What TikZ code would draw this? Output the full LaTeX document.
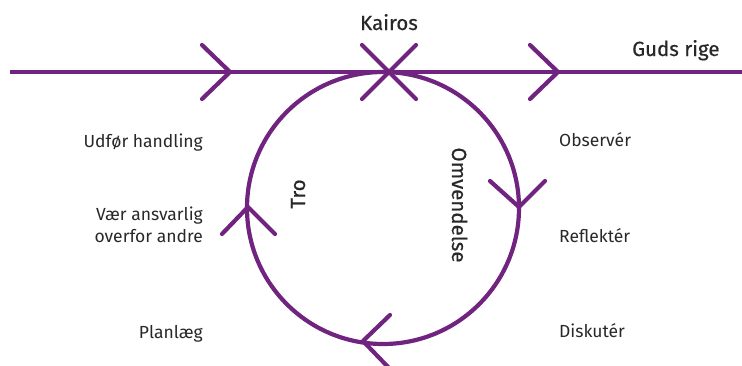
\documentclass[tikz,border=0pt]{standalone}
\usepackage{fontspec}
\setmainfont{Fira Sans}
\newfontfamily\titlefont[FakeBold=0.6]{Fira Sans}
\definecolor{cyclepurple}{RGB}{112, 36, 128}
\definecolor{textgray}{RGB}{40, 40, 40}
\usetikzlibrary{positioning}

\tikzset{
  pline/.style={draw=cyclepurple, line width=4.2pt, line cap=round, line join=round},
  steplabel/.style={text=textgray, inner sep=0pt, font=\fontsize{17.5}{22}\selectfont},
  mainlabel/.style={text=textgray, inner sep=0pt, font=\titlefont\fontsize{20.5}{24}\selectfont}
}

\begin{document}
\begin{tikzpicture}[x=1pt, y=-1pt]
  \useasboundingbox (0,0) rectangle (742,365);

  % Time line and the circle
  \draw[pline, line cap=butt] (10,72) -- (742,72);
  \draw[pline] (383,208) circle[radius=136pt];

  % Chevrons on the line, and the crossing
  \draw[pline] (202,45) -- (230,72) -- (202,99);
  \draw[pline] (530,45) -- (558,72) -- (530,99);
  \draw[pline] (362,45) -- (416,99);
  \draw[pline] (416,45) -- (362,99);

  % Chevrons on the circle
  \draw[pline] (490,181) -- (519,207) -- (545,181);
  \draw[pline] (390,315) -- (363,341) -- (389,368);
  \draw[pline] (222,234) -- (248,207) -- (275,234);

  % Titles
  \node[mainlabel, anchor=base] (kairos) at (389,30) {Kairos};
  \node[mainlabel, anchor=base west] (gudsrige) at (632,56) {Guds rige};
  \node[mainlabel, anchor=base, rotate=90] (tro) at (305,194) {Tro};
  \node[mainlabel, anchor=base, rotate=-90] (omvendelse) at (452,205) {Omvendelse};

  % Steps on the left
  \node[steplabel, anchor=base east] (udfor) at (203,147) {Udfør handling};
  \node[steplabel, anchor=base east, align=right] (ansvar) at (203,242) {Vær ansvarlig\\overfor andre};
  \node[steplabel, anchor=base east] (planlaeg) at (203,338) {Planlæg};

  % Steps on the right
  \node[steplabel, anchor=base west] (observer) at (559,146) {Observér};
  \node[steplabel, anchor=base west] (reflekter) at (559,242) {Reflektér};
  \node[steplabel, anchor=base west] (diskuter) at (559,337) {Diskutér};
\end{tikzpicture}
\end{document}
